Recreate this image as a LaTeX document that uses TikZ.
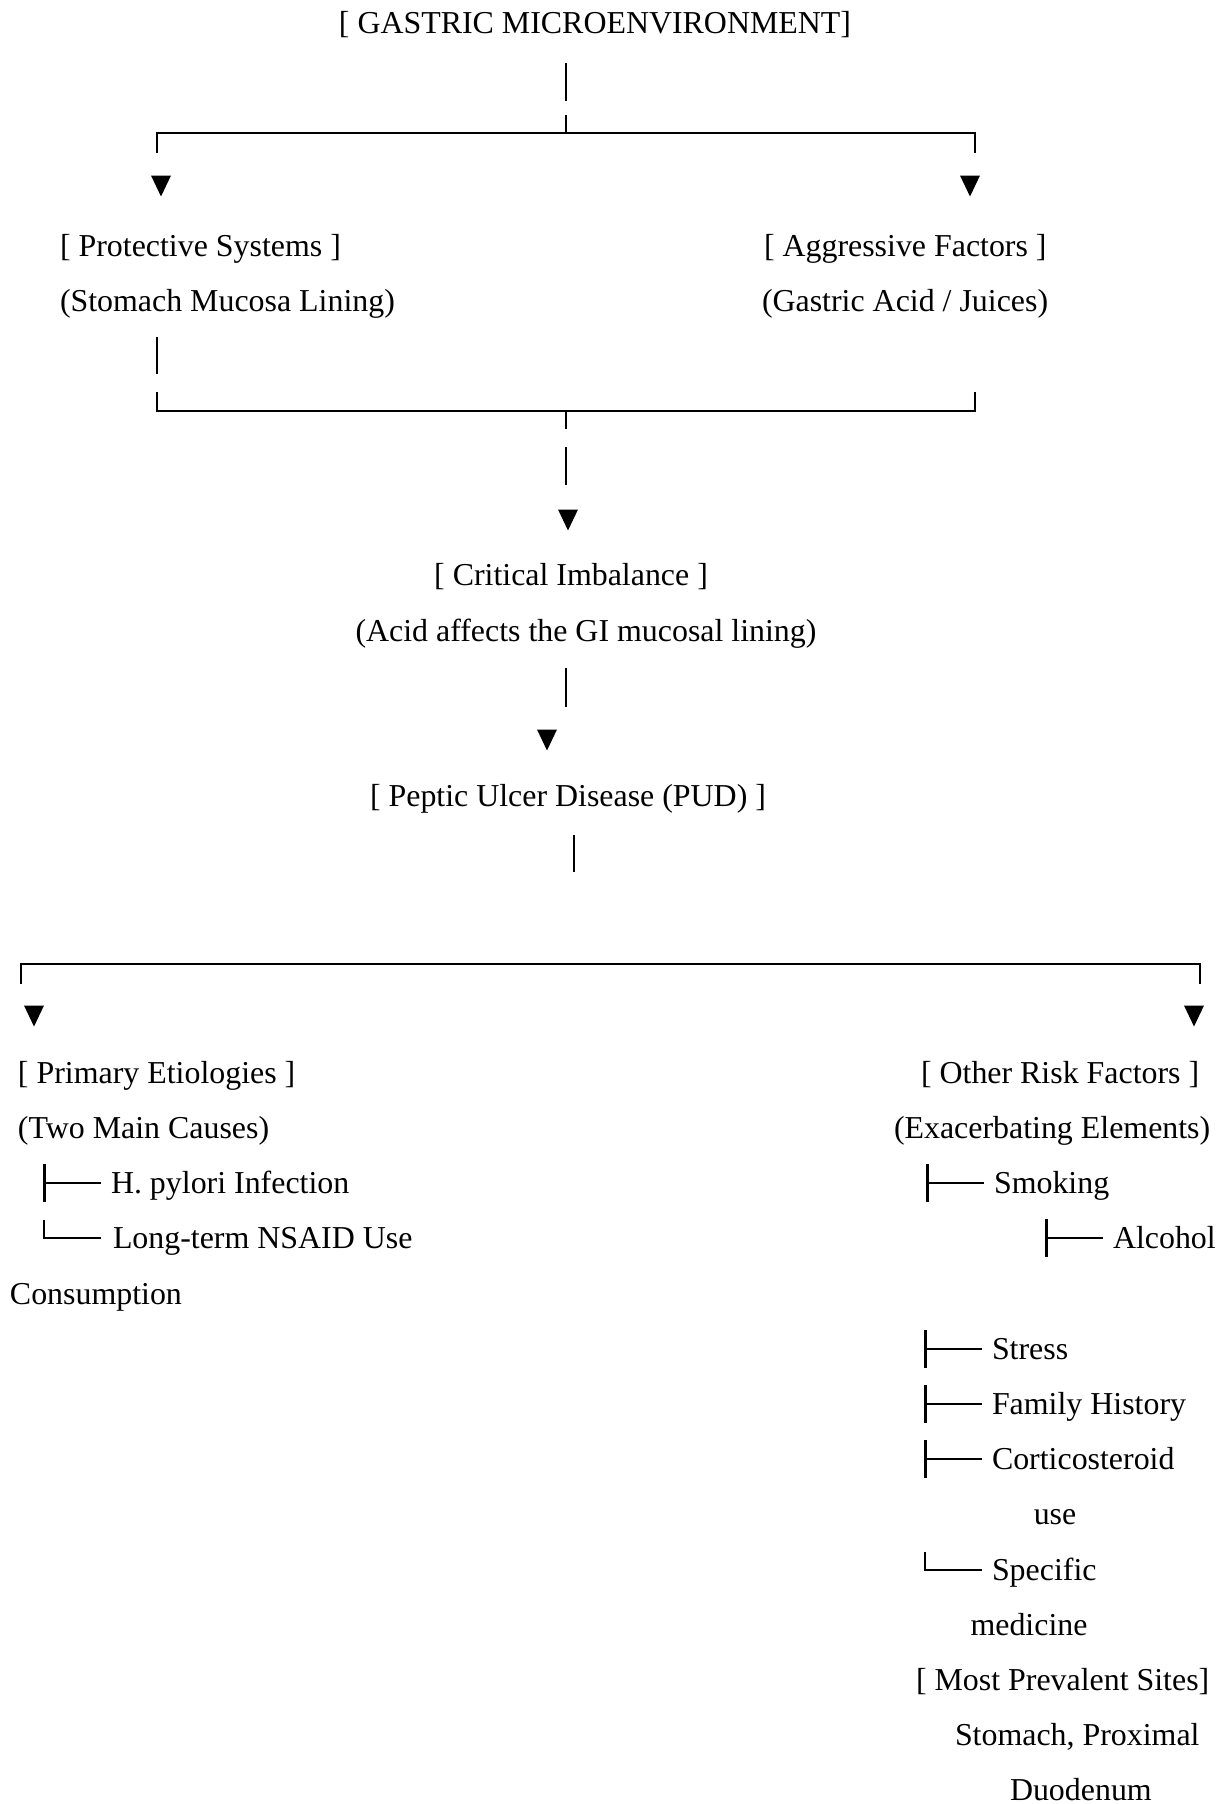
\documentclass[tikz,border=0pt]{standalone}
\usepackage{fontspec}
\setmainfont{Liberation Serif}
\begin{document}
\begin{tikzpicture}[x=0.5pt,y=-0.5pt,
  txt/.style={inner sep=0pt, outer sep=0pt, anchor=base west, font=\fontsize{15.95}{19}\selectfont},
  ctxt/.style={txt, anchor=base},
  link/.style={line width=1.2pt},
  downtri/.pic={\fill (-10,-10.5) -- (10,-10.5) -- (0,10.5) -- cycle;},
  tee/.pic={\draw[line width=1.5pt] (-67,-29) -- (-67,9); \draw[line width=1pt] (-67,-10) -- (-10,-10);},
  ell/.pic={\draw[line width=1pt] (-67,-28) -- (-67,-10) -- (-10,-10);}
]
\useasboundingbox (0,0) rectangle (1221,1804);

% texts
\node[ctxt] (gme) at (595,33) {[ GASTRIC MICROENVIRONMENT]};
\node[txt] (prot) at (60,256) {[ Protective Systems ]};
\node[txt] (prot2) at (60,311) {(Stomach Mucosa Lining)};
\node[txt] (aggr) at (764,256) {[ Aggressive Factors ]};
\node[txt] (aggr2) at (762,311) {(Gastric Acid / Juices)};
\node[ctxt] (crit) at (571,585) {[ Critical Imbalance ]};
\node[ctxt] (crit2) at (586,641) {(Acid affects the GI mucosal lining)};
\node[ctxt] (pud) at (568,806) {[ Peptic Ulcer Disease (PUD) ]};
\node[txt] (prim) at (18,1083) {[ Primary Etiologies ]};
\node[txt] (prim2) at (18,1138) {(Two Main Causes)};
\node[txt] (hp) at (111,1193) {H. pylori Infection};
\node[txt] (nsaid) at (113,1248) {Long-term NSAID Use};
\node[txt] (cons) at (10,1304) {Consumption};
\node[txt] (other) at (921,1083) {[ Other Risk Factors ]};
\node[txt] (other2) at (894,1138) {(Exacerbating Elements)};
\node[txt] (smok) at (994,1193) {Smoking};
\node[txt] (alc) at (1113,1248) {Alcohol};
\node[txt] (stress) at (992,1359) {Stress};
\node[txt] (fam) at (992,1414) {Family History};
\node[txt] (cort) at (992,1469) {Corticosteroid};
\node[ctxt] (use) at (1055,1524) {use};
\node[txt] (spec) at (992,1580) {Specific};
\node[ctxt] (med) at (1029,1635) {medicine};
\node[txt] (sites) at (916,1690) {[ Most Prevalent Sites]};
\node[txt] (sites2) at (955,1745) {Stomach, Proximal};
\node[txt] (sites3) at (1010,1800) {Duodenum};

% tree glyphs
\pic at (hp.base west) {tee};
\pic at ([shift={(-2,0)}]nsaid.base west) {ell};
\pic at (smok.base west) {tee};
\pic at (alc.base west) {tee};
\pic at (stress.base west) {tee};
\pic at (fam.base west) {tee};
\pic at (cort.base west) {tee};
\pic at (spec.base west) {ell};

% top split
\coordinate (t1) at (566,63);
\coordinate (t2) at (566,101);
\coordinate (t3) at (566,115);
\coordinate (tj) at (566,133);
\coordinate (tl) at (157,133);
\coordinate (tr) at (975,133);
\draw[link] (t1) -- (t2);
\draw[link] (t3) -- (tj);
\draw[link] (tl |- 0,153) -- (tl) -- (tr) -- (tr |- 0,153);
\pic at (161,186) {downtri};
\pic at (970,186) {downtri};

% merge
\draw[link] (157,337) -- (157,374);
\coordinate (ml) at (157,411);
\coordinate (mr) at (975,411);
\coordinate (mj) at (566,411);
\draw[link] (ml |- 0,392) -- (ml) -- (mr) -- (mr |- 0,392);
\draw[link] (mj) -- (566,429);
\draw[link] (566,447) -- (566,485);
\pic at (568,520) {downtri};

\draw[link] (566,668) -- (566,707);
\pic at (547,740) {downtri};

\draw[link] (574,835) -- (574,872);

% bottom split
\coordinate (bl) at (21,964);
\coordinate (br) at (1200,964);
\draw[link] (bl |- 0,984) -- (bl) -- (br) -- (br |- 0,984);
\pic at (34,1016) {downtri};
\pic at (1194,1016) {downtri};
\end{tikzpicture}
\end{document}
